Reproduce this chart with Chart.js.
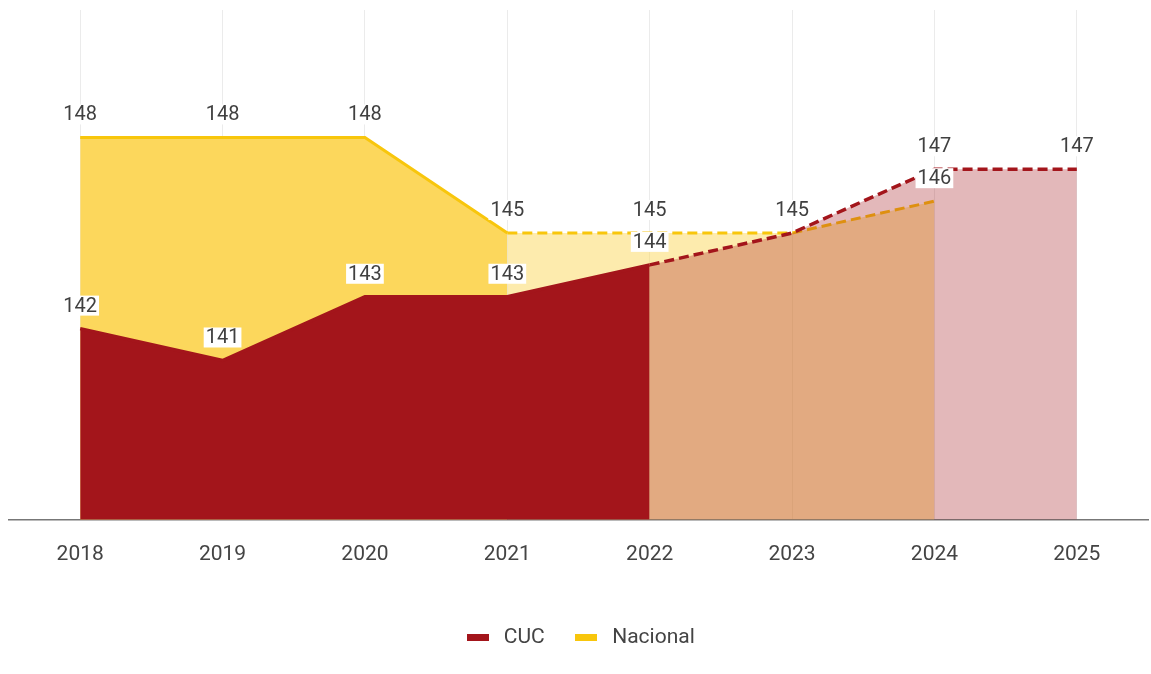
<!DOCTYPE html>
<html>
<head>
<meta charset="utf-8">
<script src="https://cdn.jsdelivr.net/npm/chart.js@4.4.1/dist/chart.umd.min.js"></script>
<style>
  html, body { margin: 0; padding: 0; background: #fff; }
  #wrap { width: 1151px; height: 674px; }
</style>
</head>
<body>
<div id="wrap"><canvas id="chart"></canvas></div>
<script>
// Data
const years    = ['2018', '2019', '2020', '2021', '2022', '2023', '2024', '2025'];
const cuc      = [142, 141, 143, 143, 144, 145, 147, 147];
const nacional = [148, 148, 148, 145, 145, 145, 146, null];
// index from which each series turns into a projection (dashed, pale fill)
const cucProjFrom = 4;
const nacProjFrom = 3;

const RED = '#a3151b';
const RED_PALE = 'rgba(163,21,27,0.3)';
const YEL_LINE = '#f8c60c';
const YEL_FILL = '#fcd75c';
const YEL_PALE = 'rgba(252,215,92,0.5)';

// small bar used as legend marker
function legendMark(color) {
  const c = document.createElement('canvas');
  c.width = 22;
  c.height = 7;
  const g = c.getContext('2d');
  g.fillStyle = color;
  g.fillRect(0, 0, 22, 7);
  return c;
}

// value labels on a white box above each point
const valueLabels = {
  id: 'valueLabels',
  afterDatasetsDraw(chart) {
    const { ctx } = chart;
    ctx.save();
    ctx.font = '20px Roboto, sans-serif';
    ctx.textAlign = 'center';
    ctx.textBaseline = 'middle';
    chart.data.datasets.forEach((ds, di) => {
      const meta = chart.getDatasetMeta(di);
      meta.data.forEach((pt, i) => {
        const v = ds.data[i];
        if (v == null) return;
        const txt = String(v);
        const w = ctx.measureText(txt).width + 4;
        const x = pt.x;
        const y = pt.y - 23;
        ctx.fillStyle = '#fff';
        ctx.fillRect(x - w / 2, y - 10, w, 20);
        ctx.fillStyle = '#404040';
        ctx.fillText(txt, x, y + 1);
      });
    });
    ctx.restore();
  },
};

new Chart(document.getElementById('chart'), {
  type: 'line',
  data: {
    labels: years,
    datasets: [
      {
        label: 'CUC',
        data: cuc,
        borderColor: RED,
        backgroundColor: RED,
        borderWidth: 3.5,
        fill: 'start',
        pointRadius: 0,
        pointHoverRadius: 0,
        pointStyle: legendMark(RED),
        segment: {
          borderDash: c => c.p0DataIndex >= cucProjFrom ? [10, 5] : undefined,
          backgroundColor: c => c.p0DataIndex >= cucProjFrom ? RED_PALE : undefined,
        },
      },
      {
        label: 'Nacional',
        data: nacional,
        borderColor: YEL_LINE,
        backgroundColor: YEL_FILL,
        borderWidth: 3,
        fill: 'start',
        pointRadius: 0,
        pointHoverRadius: 0,
        pointStyle: legendMark(YEL_LINE),
        segment: {
          borderDash: c => c.p0DataIndex >= nacProjFrom ? [10, 5] : undefined,
          backgroundColor: c => c.p0DataIndex >= nacProjFrom ? YEL_PALE : undefined,
        },
      },
    ],
  },
  options: {
    responsive: true,
    maintainAspectRatio: false,
    animation: false,
    layout: { padding: { left: 9, right: 3, top: 10, bottom: 16 } },
    scales: {
      x: {
        offset: true,
        grid: { color: '#ebebeb', lineWidth: 1, drawTicks: false, offset: false },
        border: { color: '#777', width: 1.5 },
        ticks: { color: '#444', font: { family: 'Roboto, sans-serif', size: 21 }, padding: 22 },
        afterFit: s => { s.height += 12; },
      },
      y: {
        display: false,
        min: 136,
        max: 152,
      },
    },
    plugins: {
      legend: {
        position: 'bottom',
        labels: {
          usePointStyle: true,
          pointStyleWidth: 31,
          color: '#444',
          font: { family: 'Roboto, sans-serif', size: 21 },
          padding: 26,
        },
      },
      tooltip: { enabled: false },
    },
  },
  plugins: [valueLabels],
});
</script>
</body>
</html>
